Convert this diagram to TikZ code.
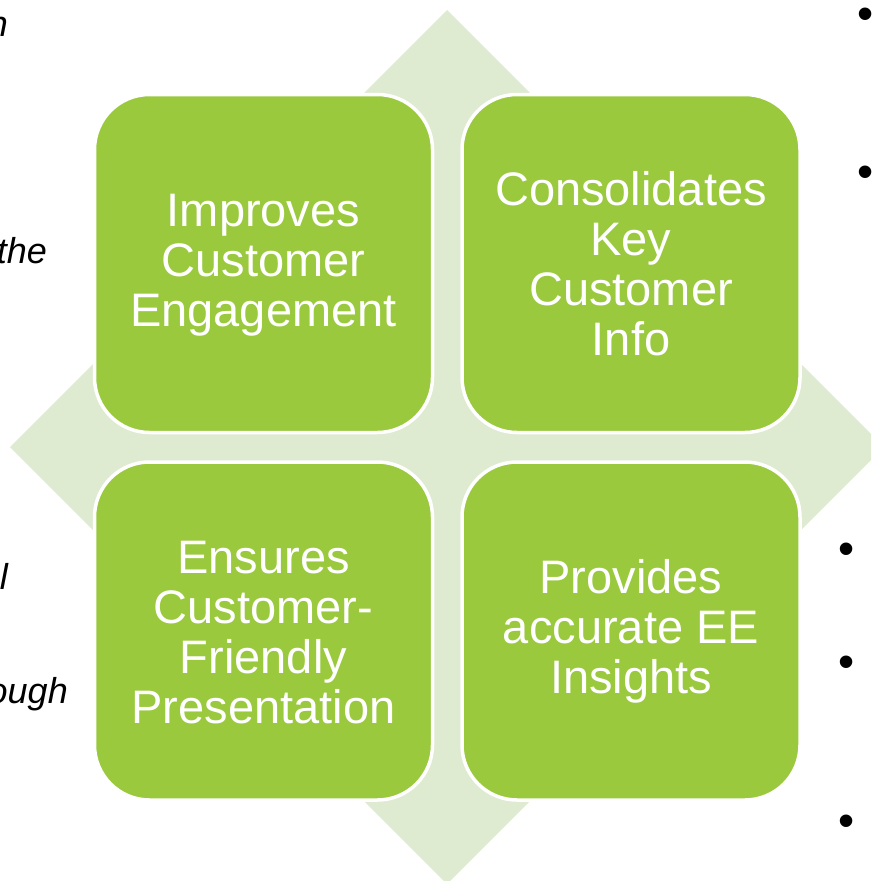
\documentclass[tikz,border=0pt]{standalone}
\usepackage{fontspec}
\setmainfont{Liberation Sans}
\usetikzlibrary{positioning}

\definecolor{leafgreen}{RGB}{154,201,62}
\definecolor{palegreen}{RGB}{222,235,209}

\begin{document}
\begin{tikzpicture}[
    x=1pt, y=-1pt,
    tile/.style={draw=white, line width=3.5pt, fill=leafgreen, rounded corners=55pt,
                 minimum width=338pt, minimum height=338pt, inner sep=0pt, align=center,
                 text=white, font=\fontsize{47}{50}\selectfont},
    cut/.style={font=\fontsize{36}{40}\selectfont\itshape, inner sep=0pt, anchor=base east},
    dot/.style={font=\fontsize{46}{50}\selectfont, inner sep=0pt},
]
\useasboundingbox (0,0) rectangle (871,881);
\clip (0,0) rectangle (871,881);

% background diamond
\fill[palegreen] (447,10) -- (884,447) -- (447,884) -- (10,447) -- cycle;

% the four tiles
\node[tile] (imp) at (263.5,263.5) {\strut Improves\\Customer\\Engagement};
\node[tile, right=26pt of imp] (cons) {\strut Consolidates\\Key\\Customer\\Info};
\node[tile, below=26pt of imp] (ens) {\strut Ensures\\Customer-\\Friendly\\Presentation};
\node[tile, below=26pt of cons] (prov) {\strut Provides\\accurate EE\\Insights};

% text running in from the left
\node[cut] (frag1) at (8,36) {n};
\node[cut] (frag2) at (47,263) {the};
\node[cut] (frag3) at (8,589) {l};
\node[cut] (frag4) at (68,703) {ough};

% bullets on the right
\node[dot] (b1) at (866,19) {•};
\node[dot] (b2) at (866,177) {•};
\node[dot] (b3) at (847,554) {•};
\node[dot] (b4) at (847,667) {•};
\node[dot] (b5) at (847,826) {•};

\end{tikzpicture}
\end{document}
